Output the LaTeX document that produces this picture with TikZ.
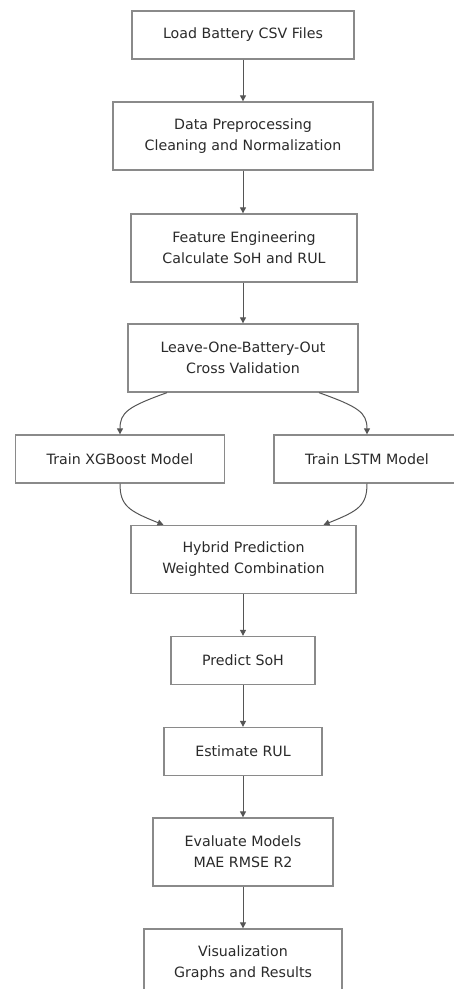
\documentclass[tikz,border=0pt]{standalone}
\usepackage{fontspec}
\setmainfont{DejaVu Sans}
\usetikzlibrary{arrows.meta,calc}
\definecolor{boxline}{HTML}{8A8A8A}
\definecolor{txt}{HTML}{2A2A2A}
\definecolor{edge}{HTML}{555555}
\begin{document}
\begin{tikzpicture}[x=1pt,y=-1pt,
  box/.style={draw=boxline,line width=1.3pt,fill=white,rectangle,align=center,
    text=txt,font=\fontsize{14.2}{21}\selectfont,inner sep=0pt},
  one/.style={box,minimum height=48pt},
  two/.style={box,minimum height=68pt},
  arr/.style={draw=edge,line width=1pt,-{Triangle[length=6pt,width=6pt]}}]
\useasboundingbox (0,0) rectangle (453,989);
\node[one,minimum width=222pt] (b1) at (243,35) {Load Battery CSV Files};
\node[two,minimum width=260pt] (b2) at (243,136) {Data Preprocessing\\Cleaning and Normalization};
\node[two,minimum width=226pt] (b3) at (244,248) {Feature Engineering\\Calculate SoH and RUL};
\node[two,minimum width=230pt] (b4) at (243,358) {Leave-One-Battery-Out\\Cross Validation};
\node[one,minimum width=209pt] (b5) at (120,459) {Train XGBoost Model};
\node[one,minimum width=186pt] (b6) at (367,459) {Train LSTM Model};
\node[two,minimum width=225pt] (b7) at (243.5,559.5) {Hybrid Prediction\\Weighted Combination};
\node[one,minimum width=144pt] (b8) at (243,660.5) {Predict SoH};
\node[one,minimum width=158pt] (b9) at (243,751.5) {Estimate RUL};
\node[two,minimum width=180pt] (b10) at (243,852) {Evaluate Models\\MAE RMSE R2};
\node[two,minimum width=198pt] (b11) at (243,963) {Visualization\\Graphs and Results};
\draw[arr] (b1.south) -- (b2.north);
\draw[arr] (b2.south) -- (b3.north-|b2.south);
\draw[arr] (b3.south-|b2.south) -- (b4.north);
\draw[arr] ($(b4.south)+(-76,0)$) .. controls ($(b4.south)+(-115,14)$) and ($(b5.north)+(0,-22)$) .. (b5.north);
\draw[arr] ($(b4.south)+(76,0)$) .. controls ($(b4.south)+(115,14)$) and ($(b6.north)+(0,-22)$) .. (b6.north);
\draw[arr] (b5.south) .. controls ($(b5.south)+(0,22)$) and ($(b7.north)+(-115,-14)$) .. ($(b7.north)+(-80,0)$);
\draw[arr] (b6.south) .. controls ($(b6.south)+(0,22)$) and ($(b7.north)+(115,-14)$) .. ($(b7.north)+(80,0)$);
\draw[arr] (b7.south-|b8.north) -- (b8.north);
\draw[arr] (b8.south) -- (b9.north);
\draw[arr] (b9.south) -- (b10.north);
\draw[arr] (b10.south) -- (b11.north);
\end{tikzpicture}
\end{document}
